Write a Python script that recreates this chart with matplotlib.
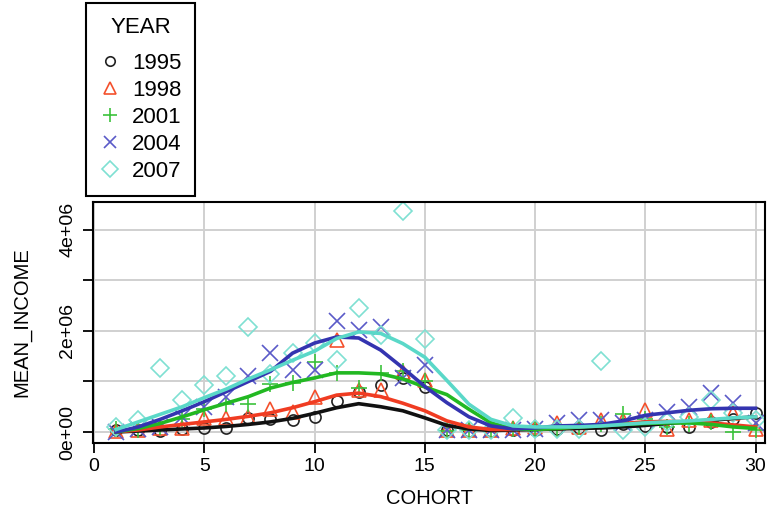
import numpy as np
import matplotlib
matplotlib.use("Agg")
import matplotlib.pyplot as plt

plt.rcParams['font.family'] = ['Liberation Sans', 'DejaVu Sans']

# cohort index
cohort = list(range(1, 31))

# observed mean income (millions) per survey year
inc_1995 = [0.03, 0.04, 0.02, 0.05, 0.08, 0.08, 0.28, 0.26, 0.24, 0.30,
            0.61, 0.79, 0.93, 1.07, 0.89, 0.03, 0.02, 0.02, 0.03, 0.04,
            0.05, 0.08, 0.04, 0.15, 0.12, 0.10, 0.10, 0.20, 0.25, 0.37]
inc_1998 = [0.02, 0.03, 0.08, 0.08, 0.28, 0.28, 0.30, 0.45, 0.40, 0.70,
            1.82, 0.83, 0.83, 1.19, 1.03, 0.03, 0.03, 0.03, 0.07, 0.10,
            0.17, 0.10, 0.24, 0.24, 0.43, 0.05, 0.24, 0.24, 0.37, 0.05]
inc_2001 = [0.05, 0.03, 0.10, 0.25, 0.45, 0.55, 0.55, 0.95, 0.97, 1.38,
            1.17, 0.87, 1.17, 1.20, 1.00, 0.02, 0.03, 0.03, 0.05, 0.05,
            0.05, 0.10, 0.15, 0.35, 0.25, 0.10, 0.15, 0.20, 0.00, 0.03]
inc_2004 = [0.00, 0.05, 0.10, 0.29, 0.50, 0.69, 1.10, 1.57, 1.23, 1.23,
            2.19, 2.02, 2.08, 1.07, 1.33, 0.03, 0.03, 0.03, 0.03, 0.05,
            0.17, 0.24, 0.24, 0.17, 0.24, 0.40, 0.50, 0.77, 0.57, 0.17]
inc_2007 = [0.10, 0.24, 1.27, 0.63, 0.93, 1.11, 2.08, 1.15, 1.56, 1.76,
            1.43, 2.45, 1.92, 4.37, 1.84, 0.03, 0.03, 0.04, 0.28, 0.05,
            0.05, 0.05, 1.40, 0.04, 0.10, 0.20, 0.30, 0.63, 0.37, 0.24]

# smoothed fits (millions)
fit_1995 = [0.00, 0.02, 0.04, 0.06, 0.08, 0.11, 0.15, 0.20, 0.27, 0.37,
            0.48, 0.56, 0.50, 0.42, 0.28, 0.13, 0.06, 0.03, 0.04, 0.05,
            0.06, 0.07, 0.08, 0.10, 0.13, 0.17, 0.20, 0.23, 0.27, 0.30]
fit_1998 = [0.00, 0.04, 0.10, 0.15, 0.20, 0.25, 0.31, 0.38, 0.48, 0.60,
            0.73, 0.77, 0.70, 0.57, 0.42, 0.22, 0.10, 0.05, 0.05, 0.06,
            0.08, 0.10, 0.14, 0.17, 0.20, 0.21, 0.20, 0.18, 0.14, 0.10]
fit_2001 = [0.00, 0.07, 0.17, 0.30, 0.44, 0.57, 0.70, 0.87, 0.98, 1.07,
            1.17, 1.17, 1.15, 1.05, 0.89, 0.74, 0.45, 0.18, 0.06, 0.05,
            0.07, 0.10, 0.12, 0.15, 0.17, 0.18, 0.18, 0.15, 0.10, 0.07]
fit_2004 = [0.00, 0.10, 0.25, 0.42, 0.60, 0.80, 1.00, 1.20, 1.56, 1.76,
            1.88, 1.86, 1.62, 1.27, 0.90, 0.58, 0.30, 0.12, 0.06, 0.08,
            0.12, 0.13, 0.15, 0.22, 0.33, 0.38, 0.43, 0.46, 0.47, 0.47]
fit_2007 = [0.05, 0.20, 0.35, 0.50, 0.68, 0.85, 1.05, 1.23, 1.42, 1.60,
            1.85, 1.98, 1.95, 1.75, 1.48, 1.02, 0.55, 0.25, 0.12, 0.10,
            0.10, 0.10, 0.12, 0.15, 0.18, 0.20, 0.22, 0.25, 0.28, 0.30]

years = ['1995', '1998', '2001', '2004', '2007']
obs = [inc_1995, inc_1998, inc_2001, inc_2004, inc_2007]
fits = [fit_1995, fit_1998, fit_2001, fit_2004, fit_2007]

pt_colors = ['#222222', '#f4502c', '#3cc23c', '#5a5ac8', '#7fe0d2']
ln_colors = ['#111111', '#f03c22', '#22b822', '#3434b0', '#5ad8c8']
markers = ['o', '^', '+', 'x', 'D']
msizes = [8, 10, 12, 11, 9]

fig = plt.figure(figsize=(7.72, 5.22), dpi=100)
ax = fig.add_axes([0.1205, 0.1513, 0.871, 0.4617])

x = np.array(cohort)
handles = []
for i in range(5):
    y = np.array(obs[i]) * 1e6
    if markers[i] in ('+', 'x'):
        h, = ax.plot(x, y, linestyle='none', marker=markers[i], ms=msizes[i],
                     mew=1.2, color=pt_colors[i], label=years[i])
    else:
        h, = ax.plot(x, y, linestyle='none', marker=markers[i], ms=msizes[i],
                     mew=1.2, mfc='none', mec=pt_colors[i], label=years[i])
    handles.append(h)
for i in range(5):
    ax.plot(x, np.array(fits[i]) * 1e6, color=ln_colors[i], lw=2.6,
            solid_joinstyle='round')

ax.set_xlim(-0.05, 30.45)
ax.set_ylim(-0.218e6, 4.55e6)
ax.set_xticks([0, 5, 10, 15, 20, 25, 30])
ax.set_yticks([0, 1e6, 2e6, 3e6, 4e6])
ax.set_yticklabels(['0e+00', '', '2e+06', '', '4e+06'], rotation=90, va='center')
ax.tick_params(labelsize=14, length=7, width=1.3, direction='out')
ax.tick_params(axis='x', pad=4)
ax.tick_params(axis='y', pad=5)
ax.grid(True, color='#d0d0d0', lw=1.4)
ax.set_axisbelow(True)
for s in ax.spines.values():
    s.set_linewidth(1.5)

ax.set_xlabel('COHORT', fontsize=14.5, labelpad=10)
ax.set_ylabel('MEAN_INCOME', fontsize=14.5, labelpad=20)

leg = fig.legend(handles=handles, title='YEAR', loc='upper left',
                 bbox_to_anchor=(86 / 772, 1 - 3 / 522), fontsize=16,
                 title_fontsize=16, frameon=True, fancybox=False,
                 edgecolor='black', framealpha=1, labelspacing=0.27,
                 handlelength=0.9, handletextpad=0.55, borderpad=0.62,
                 borderaxespad=0, markerscale=0.85)
leg._legend_box.sep = 11
leg.get_frame().set_linewidth(1.5)

fig.savefig('out.png', dpi=100)
